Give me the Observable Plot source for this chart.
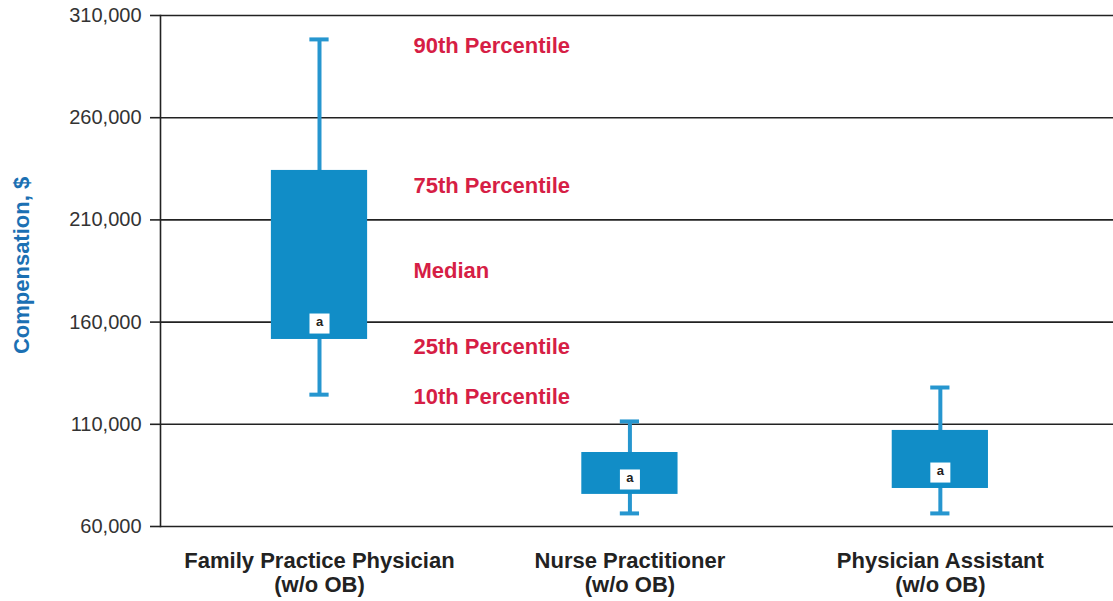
<!DOCTYPE html>
<html>
<head>
<meta charset="utf-8">
<script src="https://cdn.jsdelivr.net/npm/d3@7"></script>
<script src="https://cdn.jsdelivr.net/npm/@observablehq/plot@0.6"></script>
<style>
  html, body { margin: 0; padding: 0; background: #fff; }
  #chart svg { display: block; }
</style>
</head>
<body>
<div id="chart"></div>
<script>
// Data
const categories = ["Family Practice Physician\n(w/o OB)", "Nurse Practitioner\n(w/o OB)", "Physician Assistant\n(w/o OB)"];
const p10 = [124500, 66400, 66400];
const p25 = [151500, 75700, 78600];
const median = [159300, 83000, 86400];
const p75 = [234200, 96200, 107000];
const p90 = [298300, 111400, 128000];

const yTicks = [60000, 110000, 160000, 210000, 260000, 310000];

const pctLabels = ["90th Percentile", "75th Percentile", "Median", "25th Percentile", "10th Percentile"];
const pctLabelY = [295300, 226800, 184800, 147600, 123600];

const yLabel = "Compensation, $";

const rows = categories.map((c, i) => ({cat: c, p10: p10[i], p25: p25[i], med: median[i], p75: p75[i], p90: p90[i]}));
const labelRows = pctLabels.map((t, i) => ({t, y: pctLabelY[i]}));

const font = "'Liberation Sans', Arial, Helvetica, sans-serif";
const boxColor = "#118dc7";
const whiskerColor = "#2696cf";
const red = "#d61e45";

const chart = Plot.plot({
  width: 1113,
  height: 601,
  marginTop: 15,
  marginBottom: 75,
  marginLeft: 160,
  marginRight: 0,
  style: {fontFamily: font, background: "#fff"},
  x: {domain: categories, paddingInner: 0.69, paddingOuter: 0.38, align: 0.47, round: false, axis: null},
  y: {domain: [60000, 310000], axis: null},
  marks: [
    Plot.ruleY(yTicks, {stroke: "#222", strokeWidth: 1.6}),
    Plot.frame({anchor: "left", stroke: "#222", strokeWidth: 1.6}),
    Plot.axisY({
      ticks: yTicks,
      tickSize: 10,
      tickPadding: 9,
      tickFormat: d3.format(","),
      fontSize: 20,
      fill: "#333",
      stroke: "#222",
      strokeWidth: 1.6,
      label: null
    }),
    Plot.text([yLabel], {
      frameAnchor: "left",
      y: [187700],
      dx: -139,
      rotate: -90,
      text: d => d,
      fontSize: 22,
      fontWeight: "bold",
      fill: "#1b70b3",
      textAnchor: "middle"
    }),
    Plot.ruleX(rows, {x: "cat", y1: "p10", y2: "p90", stroke: whiskerColor, strokeWidth: 4}),
    Plot.tickY(rows, {x: "cat", y: "p10", stroke: whiskerColor, strokeWidth: 4, insetLeft: 38.5, insetRight: 38.5}),
    Plot.tickY(rows, {x: "cat", y: "p90", stroke: whiskerColor, strokeWidth: 4, insetLeft: 38.5, insetRight: 38.5}),
    Plot.barY(rows, {x: "cat", y1: "p25", y2: "p75", fill: boxColor}),
    Plot.dot(rows, {x: "cat", y: "med", symbol: "square", r: 11.3, fill: "#fff", stroke: null}),
    Plot.text(rows, {x: "cat", y: "med", text: () => "a", fontSize: 13, fontWeight: "bold", fill: "#222", dy: -2}),
    Plot.text(labelRows, {
      x: () => categories[0],
      y: "y",
      text: "t",
      dx: 94,
      textAnchor: "start",
      fontSize: 22,
      fontWeight: "bold",
      fill: red
    }),
    Plot.text(categories, {
      x: d => d,
      y: () => 60000,
      text: d => d,
      dy: 24,
      lineAnchor: "top",
      lineHeight: 1.1,
      textAnchor: "middle",
      fontSize: 22,
      fontWeight: "bold",
      fill: "#222"
    })
  ]
});
document.getElementById("chart").appendChild(chart);
</script>
</body>
</html>
